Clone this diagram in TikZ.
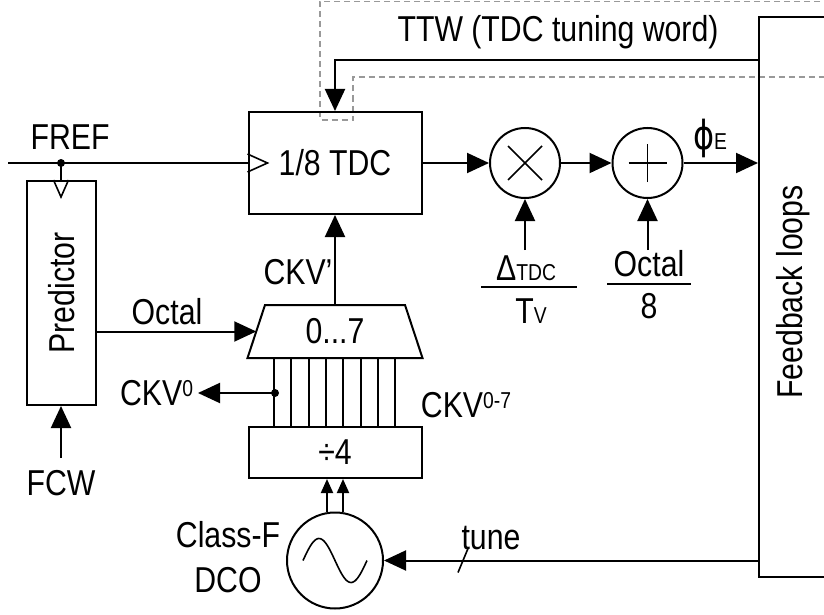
\documentclass[tikz,border=0pt]{standalone}
\usepackage{fontspec}
\setmainfont[FakeStretch=0.84]{Liberation Sans}
\newfontfamily\phif[FakeStretch=0.8]{DejaVu Sans}
\usetikzlibrary{arrows.meta}
\newcommand\mysub[1]{{\fontsize{23}{25}\selectfont #1}}
\newcommand\mysup[1]{\raisebox{9pt}{\fontsize{23}{25}\selectfont #1}}
\begin{document}
\begin{tikzpicture}[x=1pt,y=-1pt,line width=2pt,
  every node/.style={font=\fontsize{36}{42}\selectfont,inner sep=0pt},
  box/.style={draw,rectangle,inner sep=0pt},
  rnd/.style={draw,circle,inner sep=0pt},
  dot/.style={circle,fill=black,minimum size=8pt,inner sep=0pt},
  arr/.style={-{Triangle[length=22pt,width=20pt]}},
  sarr/.style={-{Triangle[length=14pt,width=12pt]}},
  dashln/.style={draw=black!40,line width=1.5pt,dash pattern=on 6pt off 4pt},
  thin/.style={line width=1.6pt}]
\useasboundingbox (0,0) rectangle (824,615);
\clip (0,0) rectangle (824,615);

% dashed boundary
\draw[dashln] (830,1.5) -- (320,1.5) -- (320,120) -- (353,120) -- (353,77) -- (830,77);

% blocks
\node[box,minimum width=173pt,minimum height=102pt] (tdc) at (335,163) {1/8 TDC};
\node[box,minimum width=69pt,minimum height=224pt] (pred) at (61.5,293) {};
\node[rotate=90] (predtxt) at (61.5,293) {Predictor};
\node[minimum width=173pt,minimum height=51pt] (mux) at (335,331.5) {0...7};
\draw (mux.south west) -- (mux.south east) -- ([xshift=-17.5pt]mux.north east) -- ([xshift=17.5pt]mux.north west) -- cycle;
\node[box,minimum width=173pt,minimum height=51pt] (div) at (335,452.5) {÷4};
\node[rnd,minimum size=96pt] (dco) at (335,560.5) {};
\draw[thin,shift={(dco.center)}] plot[domain=-1:1,samples=50,smooth] ({32*\x},{22*sin(\x*180)});
\node[rnd,minimum size=70pt] (mult) at (525,163) {};
\draw[thin] ([shift={(-17,-17)}]mult.center) -- ([shift={(17,17)}]mult.center);
\draw[thin] ([shift={(-17,17)}]mult.center) -- ([shift={(17,-17)}]mult.center);
\node[rnd,minimum size=70pt] (add) at (647.5,163) {};
\draw[thin] ([xshift=-19pt]add.center) -- ([xshift=19pt]add.center);
\draw[thin] ([yshift=-19pt]add.center) -- ([yshift=19pt]add.center);
\node[box,minimum width=81pt,minimum height=560pt] (fb) at (799.5,297) {};
\node[rotate=90] (fbtxt) at (793,292) {Feedback loops};

% FREF
\coordinate (frefin) at (8,163);
\draw (frefin) -- (tdc.west);
\node (fref) at (70,137) {FREF};
\draw[thin] ([yshift=9pt]tdc.west) -- ([xshift=20pt]tdc.west) -- ([yshift=-9pt]tdc.west);
\node[dot] (fdot) at (61,163) {};
\coordinate (ptop) at (fdot.center |- pred.north);
\draw (fdot.center) -- (ptop);
\draw[thin] ([xshift=-7.5pt]ptop) -- ([yshift=-17pt]ptop) -- ([xshift=7.5pt]ptop);

% FCW
\node (fcw) at (61,483) {FCW};
\coordinate (fcwt) at (61,458);
\draw[arr] (fcwt) -- (fcwt |- pred.south);

% Octal
\coordinate (muxin) at ([xshift=8.75pt]mux.west);
\draw[arr] (pred.east |- muxin) -- (muxin);
\node (octal) at (167,312) {Octal};

% TTW
\coordinate (ttwy) at (0,60);
\draw[arr] (fb.west |- ttwy) -| (tdc.north);
\node (ttw) at (558,32) {TTW (TDC tuning word)};

% CKV'
\draw[arr] (mux.north) -- (tdc.south);
\node (ckvp) at (298,272) {CKV’};

% phase lines
\foreach \i in {0,...,7}
  \draw ([xshift={26.5+\i*17.3}]mux.south west) -- ([xshift={26.5+\i*17.3}]div.north west);
\node[dot] (c0dot) at (275,393) {};
\node[anchor=east] (ckv0) at (194,393) {CKV\mysup{0}};
\draw[arr] (c0dot.center) -- ([xshift=4pt]ckv0.east);
\node (ckv07) at (466,405) {CKV\mysup{0-7}};

% DCO
\draw[sarr] ([xshift=-8pt]dco.north) -- ([xshift=-8pt]div.south);
\draw[sarr] ([xshift=8pt]dco.north) -- ([xshift=8pt]div.south);
\node (classf) at (228,535) {Class-F};
\node (dcotxt) at (228,580) {DCO};
\draw[arr] (fb.west |- dco.center) -- (dco.east);
\coordinate (tk) at (463,560.5);
\draw[thin] ([shift={(-5,12)}]tk) -- ([shift={(5,-12)}]tk);
\node (tune) at (491,538) {tune};

% datapath
\draw[arr] (tdc.east) -- (mult.west);
\draw[arr] (mult.east) -- (add.west);
\draw[arr] (add.east) -- (fb.west |- add.east);
\node (phie) at (710,138) {{\phif\fontsize{40}{44}\selectfont ϕ}\mysub{E}};

% fractions
\node (dnum) at (526,268) {Δ\mysub{TDC}};
\node (dden) at (531,311) {T\mysub{V}};
\draw (481,287) -- (577,287);
\coordinate (dtail) at (525,250);
\draw[arr] (dtail) -- (mult.south);
\node (onum) at (649,264) {Octal};
\node (oden) at (649,306) {8};
\draw (607,284) -- (691,284);
\coordinate (otail) at (647.5,250);
\draw[arr] (otail) -- (add.south);
\end{tikzpicture}
\end{document}
